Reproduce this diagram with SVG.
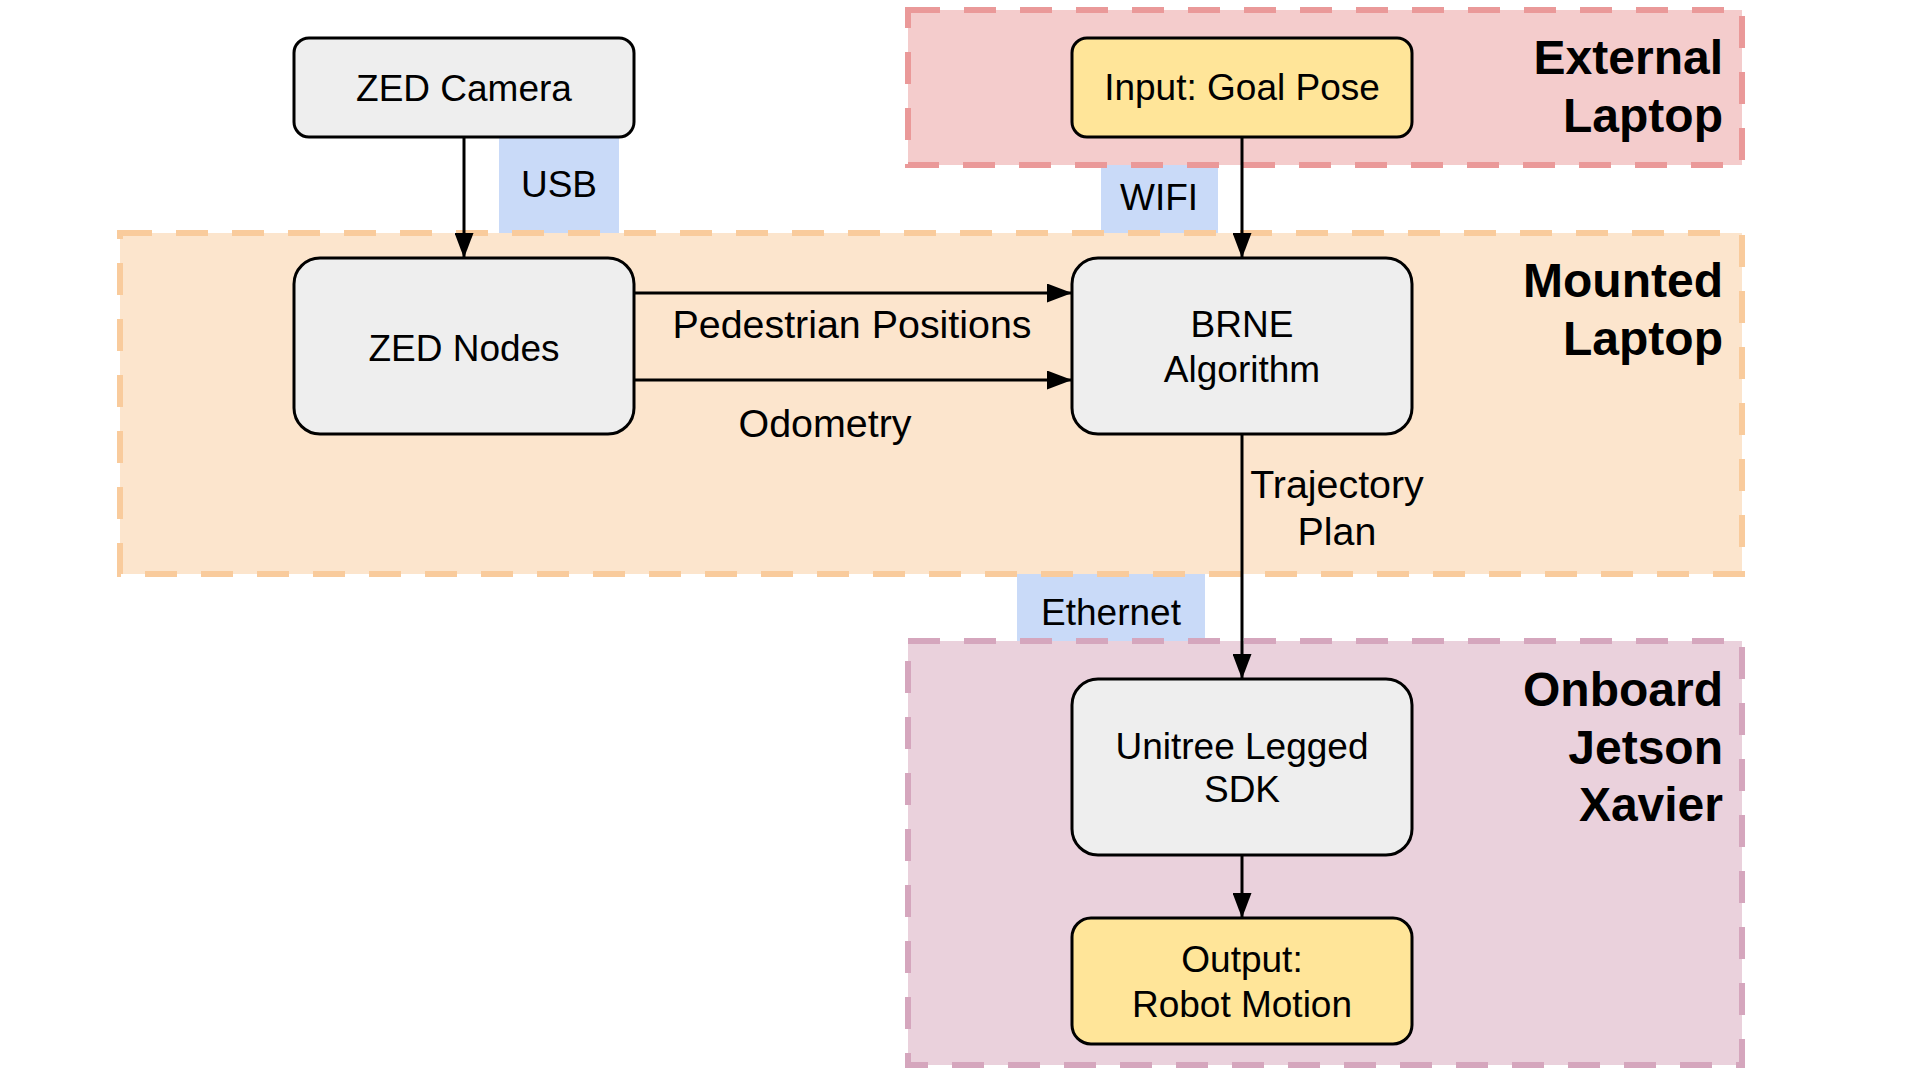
<svg xmlns="http://www.w3.org/2000/svg" width="1920" height="1080" viewBox="0 0 1920 1080">
  <defs>
    <style>
      .grp { stroke-width: 6; stroke-dasharray: 32 24; }
      .node { fill: #eeeeee; stroke: #000000; stroke-width: 3; }
      .io { fill: #ffe599; stroke: #000000; stroke-width: 3; }
      .lbl { fill: #c9daf8; stroke: none; }
      .t { font-family: "Liberation Sans", Arial, sans-serif; font-size: 37px; fill: #000000; text-anchor: middle; }
      .et { font-family: "Liberation Sans", Arial, sans-serif; font-size: 39.4px; fill: #000000; text-anchor: middle; }
      .gt { font-family: "Liberation Sans", Arial, sans-serif; font-size: 48px; font-weight: bold; fill: #000000; text-anchor: end; }
      .edge { fill: none; stroke: #000000; stroke-width: 3; }
    </style>
    <marker id="arrow" viewBox="0 0 25 19" refX="25" refY="9.5" markerWidth="25" markerHeight="19" markerUnits="userSpaceOnUse" orient="auto">
      <path d="M0,0 L25,9.5 L0,19 Z" fill="#000000"/>
    </marker>
  </defs>

  <rect width="1920" height="1080" fill="#ffffff"/>

  <!-- connection labels backgrounds -->
  <g id="label-usb">
    <rect class="lbl" x="499" y="137" width="120" height="96"/>
    <text class="t" x="559" y="197">USB</text>
  </g>
  <g id="label-wifi">
    <rect class="lbl" x="1101" y="165" width="117" height="68"/>
    <text class="t" x="1159" y="210">WIFI</text>
  </g>
  <g id="label-ethernet">
    <rect class="lbl" x="1017" y="574" width="188" height="67"/>
    <text class="t" x="1111" y="625">Ethernet</text>
  </g>

  <!-- containers -->
  <g id="group-external">
    <rect class="grp" x="908" y="10" width="834" height="155" fill="#f4cccc" stroke="#ea9999"/>
    <text class="gt" x="1723" y="74">External</text>
    <text class="gt" x="1723" y="132">Laptop</text>
  </g>
  <g id="group-mounted">
    <rect class="grp" x="120" y="233" width="1622" height="341" fill="#fce5cd" stroke="#f9cb9c"/>
    <text class="gt" x="1723" y="297">Mounted</text>
    <text class="gt" x="1723" y="355">Laptop</text>
  </g>
  <g id="group-onboard">
    <rect class="grp" x="908" y="641" width="834" height="424" fill="#ead1dc" stroke="#d5a6bd"/>
    <text class="gt" x="1723" y="706">Onboard</text>
    <text class="gt" x="1723" y="764">Jetson</text>
    <text class="gt" x="1723" y="821">Xavier</text>
  </g>

  <!-- nodes -->
  <g id="node-zed-camera">
    <rect class="node" x="294" y="38" width="340" height="99" rx="15" ry="15"/>
    <text class="t" x="464" y="101">ZED Camera</text>
  </g>
  <g id="node-goal-pose">
    <rect class="io" x="1072" y="38" width="340" height="99" rx="15" ry="15"/>
    <text class="t" x="1242" y="100">Input: Goal Pose</text>
  </g>
  <g id="node-zed-nodes">
    <rect class="node" x="294" y="258" width="340" height="176" rx="26" ry="26"/>
    <text class="t" x="464" y="361">ZED Nodes</text>
  </g>
  <g id="node-brne">
    <rect class="node" x="1072" y="258" width="340" height="176" rx="26" ry="26"/>
    <text class="t" x="1242" y="337">BRNE</text>
    <text class="t" x="1242" y="382">Algorithm</text>
  </g>
  <g id="node-unitree">
    <rect class="node" x="1072" y="679" width="340" height="176" rx="26" ry="26"/>
    <text class="t" x="1242" y="759">Unitree Legged</text>
    <text class="t" x="1242" y="802">SDK</text>
  </g>
  <g id="node-output">
    <rect class="io" x="1072" y="918" width="340" height="126" rx="19" ry="19"/>
    <text class="t" x="1242" y="972">Output:</text>
    <text class="t" x="1242" y="1017">Robot Motion</text>
  </g>

  <!-- connectors -->
  <g id="connectors">
    <line class="edge" x1="464" y1="137" x2="464" y2="258" marker-end="url(#arrow)"/>
    <line class="edge" x1="1242" y1="137" x2="1242" y2="258" marker-end="url(#arrow)"/>
    <line class="edge" x1="634" y1="293" x2="1072" y2="293" marker-end="url(#arrow)"/>
    <line class="edge" x1="634" y1="380" x2="1072" y2="380" marker-end="url(#arrow)"/>
    <line class="edge" x1="1242" y1="434" x2="1242" y2="679" marker-end="url(#arrow)"/>
    <line class="edge" x1="1242" y1="855" x2="1242" y2="918" marker-end="url(#arrow)"/>
    <text class="et" x="852" y="338">Pedestrian Positions</text>
    <text class="et" x="825" y="437">Odometry</text>
    <text class="et" x="1337" y="498">Trajectory</text>
    <text class="et" x="1337" y="545">Plan</text>
  </g>
</svg>
